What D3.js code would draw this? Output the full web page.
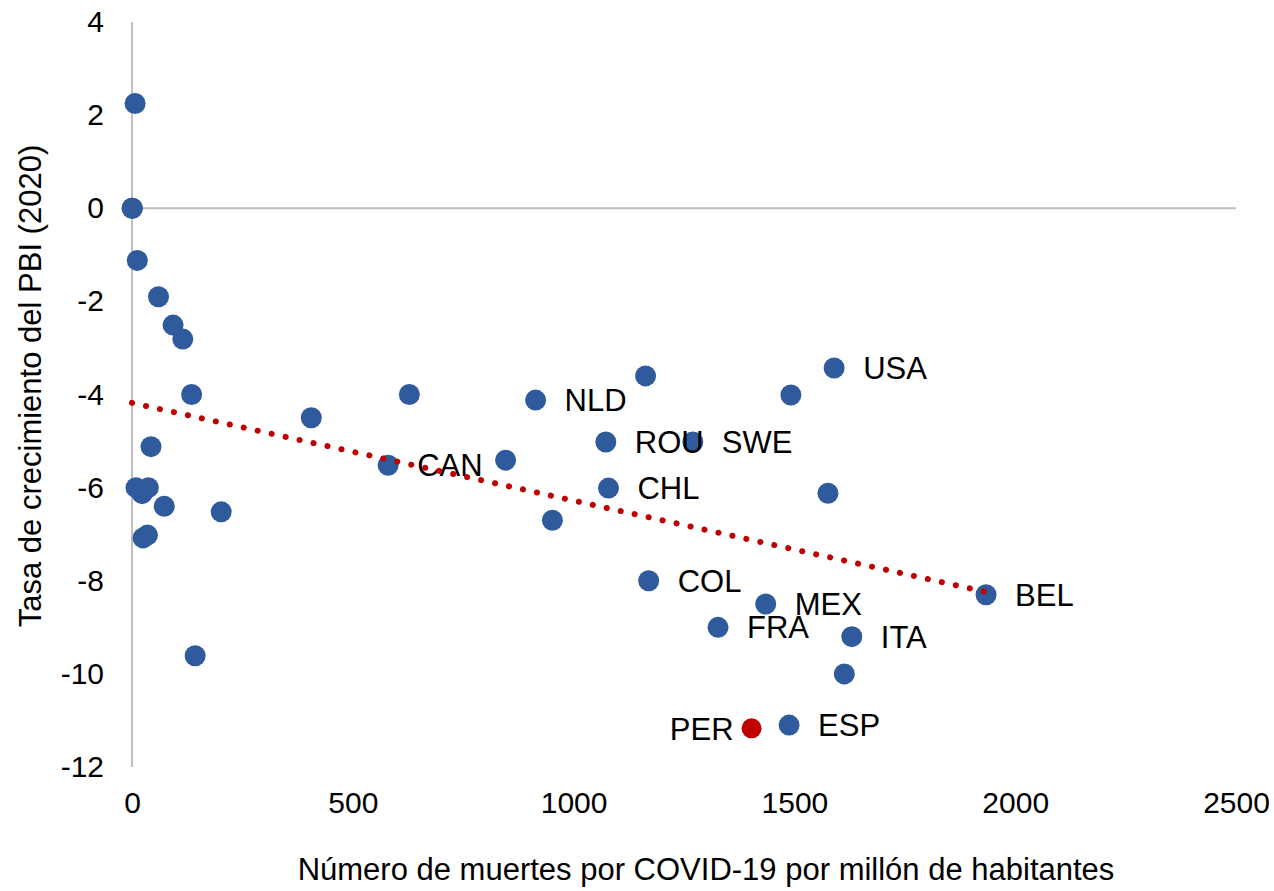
<!DOCTYPE html>
<html>
<head>
<meta charset="utf-8">
<script src="https://cdn.jsdelivr.net/npm/d3@7"></script>
<style>
  html, body { margin: 0; padding: 0; background: #fff; }
  svg { display: block; font-family: "Liberation Sans", Arial, sans-serif; }
</style>
</head>
<body>
<svg id="chart" width="1274" height="891"></svg>
<script>
// ---- data ----
const countries = ["", "", "", "", "", "", "", "", "", "", "", "", "", "", "", "", "",
  "", "", "NLD", "", "ROU", "SWE", "CAN", "", "CHL", "", "USA", "", "",
  "COL", "MEX", "FRA", "ITA", "", "ESP", "PER", "BEL"];
const deaths = [7, 1, 12, 60, 93, 115, 135, 43, 9, 23, 37, 73, 202, 25, 35, 143, 406, 628,
  1163, 914, 1492, 1073, 1270, 580, 846, 1079, 952, 1590, 1576, 0,
  1170, 1435, 1327, 1630, 1613, 1488, 1403, 1934];
const gdpGrowth = [2.25, 0, -1.12, -1.9, -2.51, -2.81, -4.0, -5.12, -6.0, -6.13, -6.0, -6.4, -6.52, -7.08, -7.02, -9.61, -4.5, -4.0,
  -3.6, -4.12, -4.01, -5.02, -5.02, -5.52, -5.41, -6.01, -6.7, -3.43, -6.12, 0,
  -8.0, -8.5, -9.0, -9.2, -10.0, -11.1, -11.17, -8.3];
const highlight = ["PER"];
const leftLabels = ["PER"];
const trendX = [0, 1934];
const trendY = [-4.18, -8.24];
const xTicks = [0, 500, 1000, 1500, 2000, 2500];
const yTicks = [4, 2, 0, -2, -4, -6, -8, -10, -12];
const xTitle = "Número de muertes por COVID-19 por millón de habitantes";
const yTitle = "Tasa de crecimiento del PBI (2020)";

// ---- chart ----
const svg = d3.select("#chart");
const x = d3.scaleLinear().domain([0, 2500]).range([132, 1236]);
const y = d3.scaleLinear().domain([-12, 4]).range([767, 22]);

const gridColor = "#BFBFBF";
const blue = "#2F5B9C";
const red = "#C00000";
const fmt = d => String(d);

// vertical axis line
svg.append("line")
  .attr("x1", x(0)).attr("x2", x(0))
  .attr("y1", y(4)).attr("y2", y(-12))
  .attr("stroke", gridColor).attr("stroke-width", 2);
// zero line (horizontal axis)
svg.append("line")
  .attr("x1", x(0)).attr("x2", x(2500))
  .attr("y1", y(0)).attr("y2", y(0))
  .attr("stroke", gridColor).attr("stroke-width", 2);

// y tick labels
const yAxis = d3.axisLeft(y).tickValues(yTicks).tickSize(0).tickPadding(0).tickFormat(fmt);
const gy = svg.append("g").attr("transform", "translate(104,0)").call(yAxis);
gy.select(".domain").remove();
gy.selectAll("text").attr("font-size", 30).attr("fill", "#000")
  .attr("font-family", "Liberation Sans, Arial, sans-serif");

// x tick labels (low position)
const xAxis = d3.axisBottom(x).tickValues(xTicks).tickSize(0).tickPadding(0).tickFormat(fmt);
const gx = svg.append("g").attr("transform", "translate(0,792)").call(xAxis);
gx.select(".domain").remove();
gx.selectAll("text").attr("font-size", 30).attr("fill", "#000")
  .attr("font-family", "Liberation Sans, Arial, sans-serif");

// axis titles
svg.append("text")
  .attr("x", 706).attr("y", 880)
  .attr("text-anchor", "middle")
  .attr("font-size", 31).attr("fill", "#000")
  .text(xTitle);
svg.append("text")
  .attr("transform", "translate(41,386) rotate(-90)")
  .attr("text-anchor", "middle")
  .attr("font-size", 31).attr("fill", "#000")
  .text(yTitle);

// points
const data = countries.map((c, i) => ({ c, d: deaths[i], g: gdpGrowth[i] }));
svg.append("g").selectAll("circle")
  .data(data)
  .join("circle")
  .attr("cx", d => x(d.d))
  .attr("cy", d => y(d.g))
  .attr("r", d => highlight.includes(d.c) ? 10 : 10.5)
  .attr("fill", d => highlight.includes(d.c) ? red : blue);

// labels
svg.append("g").selectAll("text")
  .data(data.filter(d => d.c !== ""))
  .join("text")
  .attr("x", d => leftLabels.includes(d.c) ? x(d.d) - 18 : x(d.d) + 29)
  .attr("y", d => y(d.g))
  .attr("dy", "0.36em")
  .attr("text-anchor", d => leftLabels.includes(d.c) ? "end" : "start")
  .attr("font-size", 31).attr("fill", "#000")
  .text(d => d.c);

// trend line (dotted)
svg.append("line")
  .attr("x1", x(trendX[0])).attr("y1", y(trendY[0]))
  .attr("x2", x(trendX[1])).attr("y2", y(trendY[1]))
  .attr("stroke", red).attr("stroke-width", 6)
  .attr("stroke-linecap", "round")
  .attr("stroke-dasharray", "0.1 14.2");
</script>
</body>
</html>
